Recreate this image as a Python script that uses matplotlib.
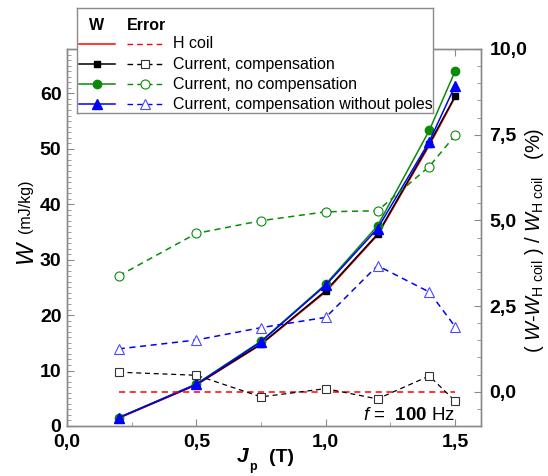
import numpy as np
import matplotlib
matplotlib.use('Agg')
import matplotlib.pyplot as plt
from matplotlib.ticker import MultipleLocator, FuncFormatter

plt.rcParams['font.family'] = ['Liberation Sans', 'DejaVu Sans']
plt.rcParams['mathtext.fontset'] = 'custom'
plt.rcParams['mathtext.rm'] = 'Liberation Sans'
plt.rcParams['mathtext.it'] = 'Liberation Sans:italic'
plt.rcParams['mathtext.bf'] = 'Liberation Sans:bold'

# ---------------- data ----------------
Jp = [0.2, 0.5, 0.75, 1.0, 1.2, 1.4, 1.5]

W_hcoil = [1.4, 7.4, 14.7, 24.2, 34.4, 50.6, 59.3]
W_comp = [1.5, 7.5, 14.8, 24.4, 34.6, 50.9, 59.5]
W_nocomp = [1.5, 7.6, 15.3, 25.6, 36.1, 53.3, 64.0]
W_nopoles = [1.5, 7.5, 15.2, 25.4, 35.6, 51.3, 61.4]

err_hcoil = [0.0, 0.0, 0.0, 0.0, 0.0, 0.0, 0.0]
err_comp = [0.57, 0.48, -0.15, 0.09, -0.21, 0.46, -0.27]
err_nocomp = [3.38, 4.62, 4.99, 5.25, 5.28, 6.57, 7.48]
err_nopoles = [1.25, 1.51, 1.87, 2.17, 3.68, 2.91, 1.90]

labels = ['H coil', 'Current, compensation', 'Current, no compensation',
          'Current, compensation without poles']

RED = '#ff0000'
BLACK = '#000000'
GREEN = '#0a8a0a'
BLUE = '#0000ff'
SPINE = '#8a8a8a'

W_PX, H_PX = 548, 476


def fx(px):
    return px / W_PX


def fy(py):
    return 1 - py / H_PX


def comma(v, pos=None):
    return f'{v:.1f}'.replace('.', ',')


fig = plt.figure(figsize=(W_PX / 100, H_PX / 100), dpi=100)
ax = fig.add_axes([fx(67), fy(426), fx(481) - fx(67), fy(49) - fy(426)])
ax2 = ax.twinx()

# W curves (left axis)
ax.plot(Jp, W_hcoil, '-', color=RED, lw=1.1, zorder=2)
ax.plot(Jp, W_comp, '-', color=BLACK, lw=1.1, marker='s', ms=5, zorder=3)
ax.plot(Jp, W_nocomp, '-', color=GREEN, lw=1.1, marker='o', ms=6, zorder=3)
ax.plot(Jp, W_nopoles, '-', color=BLUE, lw=1.1, marker='^', ms=7.5, zorder=4)

# error curves (right axis)
dash = (0, (4, 3))
ax2.plot(Jp, err_hcoil, color=RED, lw=1.1, ls=dash)
ax2.plot(Jp, err_comp, color=BLACK, lw=0.9, ls=dash, marker='s', ms=6,
         mfc='white', mec='#333333', mew=0.8)
ax2.plot(Jp, err_nocomp, color=GREEN, lw=1.1, ls=dash, marker='o', ms=6.5,
         mfc='white', mec=GREEN, mew=0.8)
ax2.plot(Jp, err_nopoles, color=BLUE, lw=1.1, ls=dash, marker='^', ms=7.5,
         mfc='white', mec='#4a4aff', mew=0.8)

ax.set_xlim(0, 1.6)
ax.set_ylim(0, 68)
ax2.set_ylim(-1.0, 10.0)

ax.xaxis.set_major_locator(MultipleLocator(0.5))
ax.xaxis.set_minor_locator(MultipleLocator(0.25))
ax.yaxis.set_major_locator(MultipleLocator(10))
ax.yaxis.set_minor_locator(MultipleLocator(1))
ax2.yaxis.set_major_locator(MultipleLocator(2.5))
ax2.yaxis.set_minor_locator(MultipleLocator(0.5))
ax.xaxis.set_major_formatter(FuncFormatter(comma))
ax2.yaxis.set_major_formatter(FuncFormatter(comma))

for a in (ax, ax2):
    for s in a.spines.values():
        s.set_color(SPINE)
        s.set_linewidth(1.0)
ax.tick_params(which='both', direction='in', top=True, right=False, colors=SPINE,
               labelcolor='black')
ax.tick_params(which='major', length=5, labelsize=14)
ax.tick_params(which='minor', length=3)
ax.tick_params(axis='x', pad=6)
ax.tick_params(axis='y', pad=4)
ax2.tick_params(which='both', direction='in', colors=SPINE, labelcolor='black')
ax2.tick_params(which='major', length=5, labelsize=14, pad=6)
ax2.tick_params(which='minor', length=3)
for lab in ax.get_xticklabels() + ax.get_yticklabels() + ax2.get_yticklabels():
    lab.set_fontweight('bold')

# frequency note
ax.text(0.937, 0.017, r'$\mathit{f}$ =  $\mathbf{100}$ Hz', transform=ax.transAxes,
        ha='right', va='baseline', fontsize=13.5)

# axis labels
fig.text(fx(25), fy(252), 'W', rotation=90, ha='center', va='center',
         fontsize=17, fontstyle='italic')
fig.text(fx(25), fy(206), '(mJ/kg)', rotation=90, ha='center', va='center',
         fontsize=11.5)
fig.text(fx(243), fy(457), 'J', ha='center', va='center', fontsize=15,
         fontstyle='italic', fontweight='bold')
fig.text(fx(253), fy(467), 'p', ha='center', va='center', fontsize=9,
         fontweight='bold')
fig.text(fx(282), fy(458), '(T)', ha='center', va='center', fontsize=14,
         fontweight='bold')
fig.text(fx(534), fy(240),
         r'( $\mathit{W}$-$\mathit{W}_{\rm H\ coil}$ ) / $\mathit{W}_{\rm H\ coil}$   (%)',
         rotation=90, ha='center', va='center', fontsize=14.5)

# legend drawn in its own axes (pixel coordinates)
lax = fig.add_axes([fx(77), fy(113), fx(433) - fx(77), fy(8) - fy(113)])
lax.set_xlim(77, 433)
lax.set_ylim(113, 8)
lax.set_xticks([])
lax.set_yticks([])
for s in lax.spines.values():
    s.set_color(SPINE)
    s.set_linewidth(1.0)
lax.text(97, 25, 'W', ha='center', va='center', fontsize=11.5, fontweight='bold')
lax.text(146, 25, 'Error', ha='center', va='center', fontsize=11.5, fontweight='bold')

styles = [
    (RED, None, 0, 0, RED),
    (BLACK, 's', 5, 6, '#333333'),
    (GREEN, 'o', 6, 6.5, GREEN),
    (BLUE, '^', 7.5, 7.5, '#4a4aff'),
]
row_y = [44, 64, 84, 104]
for (c, m, ms_solid, ms_open, mec), yy, lab in zip(styles, row_y, labels):
    lax.plot([79, 115], [yy, yy], '-', color=c, lw=1.1)
    if m:
        lax.plot([97], [yy], marker=m, color=c, ms=ms_solid, ls='none')
    lax.plot([127, 163], [yy, yy], color=c, lw=1.0, ls=dash)
    if m:
        lax.plot([145], [yy], marker=m, ms=ms_open, mfc='white', mec=mec,
                 mew=0.8, ls='none')
    lax.text(173, yy, lab, ha='left', va='center', fontsize=11.5)

fig.savefig('out.png', dpi=100)
